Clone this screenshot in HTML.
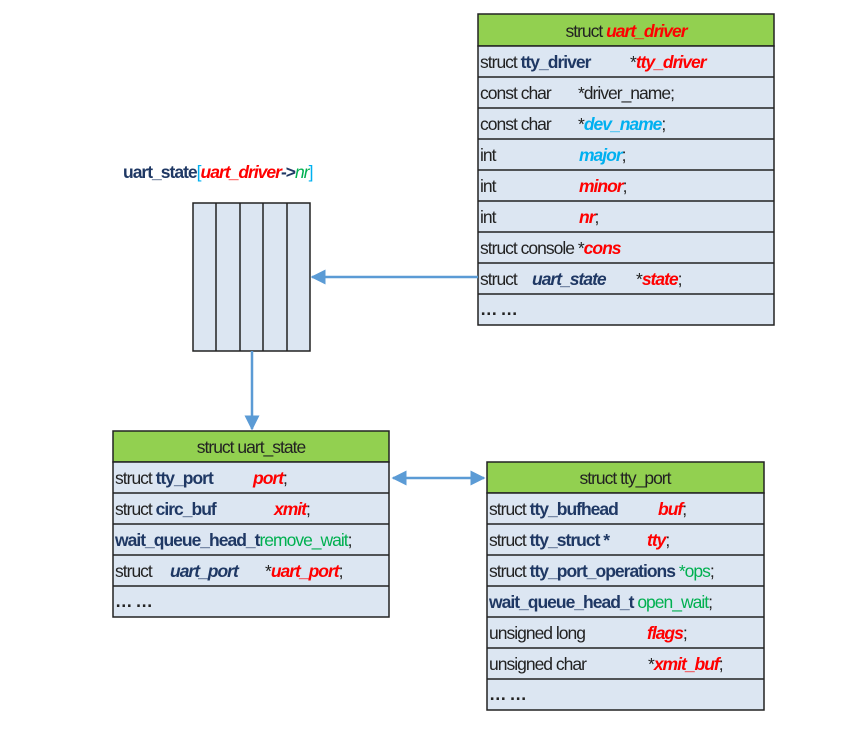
<!DOCTYPE html>
<html><head><meta charset="utf-8"><style>
body{margin:0;background:#fff}
svg text{font-family:"Liberation Sans Narrow","Liberation Sans",sans-serif;font-size:17.5px;letter-spacing:-1px;fill:#222}
.n{fill:#1f3864;font-weight:bold}
.r{fill:#ff0000;font-style:italic;font-weight:bold}
.c{fill:#00b0f0;font-style:italic;font-weight:bold}
.g{fill:#00b050}
.ni{fill:#1f3864;font-style:italic;font-weight:bold}
</style></head><body>
<svg width="859" height="734" viewBox="0 0 859 734" xmlns="http://www.w3.org/2000/svg">
<defs>
<marker id="ah" viewBox="0 0 10 10" refX="9" refY="5" markerWidth="6" markerHeight="6" orient="auto-start-reverse"><path d="M0,0L10,5L0,10z" fill="#5b9bd5"/></marker>
</defs>
<g stroke="#222" stroke-width="1.5">
<rect x="478" y="14" width="296" height="32" fill="#92d050"/>
<rect x="478" y="46" width="296" height="279" fill="#dce6f2"/>
<path d="M478 77H774M478 108H774M478 139H774M478 170H774M478 201H774M478 232H774M478 263H774M478 294H774"/>
<rect x="193" y="203" width="117" height="148" fill="#dce6f2"/>
<path d="M216 203V351M240 203V351M263 203V351M287 203V351"/>
<rect x="113" y="431" width="276" height="31" fill="#92d050"/>
<rect x="113" y="462" width="276" height="155" fill="#dce6f2"/>
<path d="M113 493H389M113 524H389M113 555H389M113 586H389"/>
<rect x="487" y="462" width="277" height="31" fill="#92d050"/>
<rect x="487" y="493" width="277" height="217" fill="#dce6f2"/>
<path d="M487 524H764M487 555H764M487 586H764M487 617H764M487 648H764M487 679H764"/>
</g>
<g stroke="#5b9bd5" stroke-width="2.5" fill="none">
<line x1="478" y1="277" x2="312" y2="277" marker-end="url(#ah)"/>
<line x1="252" y1="351" x2="252" y2="429" marker-end="url(#ah)"/>
<line x1="393" y1="478" x2="484" y2="478" marker-start="url(#ah)" marker-end="url(#ah)"/>
</g>
<text x="626" y="37" text-anchor="middle">struct <tspan class="r">uart_driver</tspan></text>
<text x="480" y="68">struct <tspan class="n">tty_driver</tspan><tspan x="630">*</tspan><tspan class="r">tty_driver</tspan></text>
<text x="480" y="99">const char<tspan x="578">*driver_name;</tspan></text>
<text x="480" y="130">const char<tspan x="578">*</tspan><tspan class="c">dev_name</tspan>;</text>
<text x="480" y="161">int<tspan x="579" class="c">major</tspan>;</text>
<text x="480" y="192">int<tspan x="579" class="r">minor</tspan>;</text>
<text x="480" y="223">int<tspan x="579" class="r">nr</tspan>;</text>
<text x="480" y="254">struct console *<tspan class="r">cons</tspan></text>
<text x="480" y="285">struct <tspan x="532" class="ni">uart_state</tspan><tspan x="636">*</tspan><tspan class="r">state</tspan>;</text>
<text x="480" y="315" style="font-weight:bold">… …</text>
<text x="123" y="178"><tspan class="n">uart_state</tspan><tspan style="fill:#00b0f0">[</tspan><tspan class="r">uart_driver</tspan><tspan class="n">-&gt;</tspan><tspan class="g" style="font-style:italic">nr</tspan><tspan style="fill:#00b0f0">]</tspan></text>
<text x="251" y="453" text-anchor="middle">struct uart_state</text>
<text x="115" y="484">struct <tspan class="n">tty_port</tspan><tspan x="253" class="r">port</tspan>;</text>
<text x="115" y="515">struct <tspan class="n">circ_buf</tspan><tspan x="274" class="r">xmit</tspan>;</text>
<text x="115" y="546"><tspan class="n">wait_queue_head_t</tspan><tspan class="g">remove_wait</tspan>;</text>
<text x="115" y="577">struct <tspan x="170" class="ni">uart_port</tspan><tspan x="265">*</tspan><tspan class="r">uart_port</tspan>;</text>
<text x="115" y="607" style="font-weight:bold">… …</text>
<text x="625" y="484" text-anchor="middle">struct  tty_port</text>
<text x="489" y="515">struct <tspan class="n">tty_bufhead</tspan><tspan x="658" class="r">buf</tspan>;</text>
<text x="489" y="546">struct <tspan class="n">tty_struct *</tspan><tspan x="647" class="r">tty</tspan>;</text>
<text x="489" y="577">struct <tspan class="n">tty_port_operations</tspan><tspan class="g"> *ops</tspan>;</text>
<text x="489" y="608"><tspan class="n">wait_queue_head_t</tspan><tspan class="g"> open_wait</tspan>;</text>
<text x="489" y="639">unsigned long<tspan x="647" class="r">flags</tspan>;</text>
<text x="489" y="670">unsigned char<tspan x="648">*</tspan><tspan class="r">xmit_buf</tspan>;</text>
<text x="489" y="700" style="font-weight:bold">… …</text>
</svg>
</body></html>
